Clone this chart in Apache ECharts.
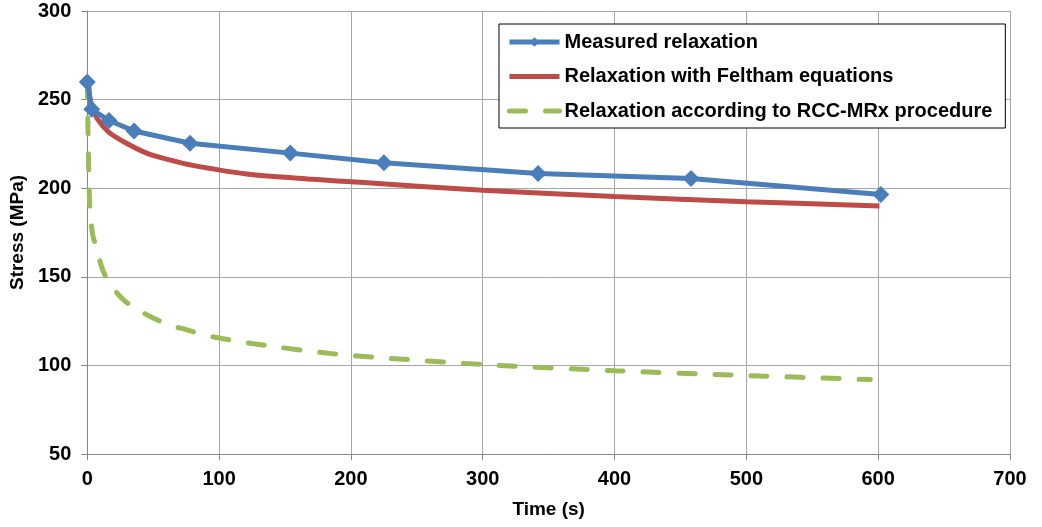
<!DOCTYPE html>
<html>
<head>
<meta charset="utf-8">
<script src="https://cdn.jsdelivr.net/npm/echarts@6/dist/echarts.min.js"></script>
<style>
html,body{margin:0;padding:0;background:#fff;}
#c{width:1042px;height:527px;}
</style>
</head>
<body>
<div id="c"></div>
<script>
var xTicks = [0, 100, 200, 300, 400, 500, 600, 700];
var yTicks = [50, 100, 150, 200, 250, 300];

var measuredT = [0, 3.4, 16.5, 35.5, 78, 154, 225, 342, 458, 602];
var measuredS = [260, 244.5, 238.2, 232.3, 225.4, 219.8, 214.3, 208.3, 205.5, 196.5];

var felthamT = [0, 1, 2, 4, 7.8, 16.5, 29.4, 46, 65, 79, 121, 172, 207, 300, 400, 500, 601];
var felthamS = [260, 258.5, 251, 245.5, 239, 231.5, 225.5, 219.5, 215.5, 213, 208, 205, 203.3, 198.8, 195.3, 192.4, 190];

var rccT = [0, 0.5, 1, 1.5, 2.2, 3.6, 5, 7, 10.7, 15.8, 26, 36, 50, 61.4, 75, 87.7, 111, 144, 187, 227, 300, 400, 500, 594];
var rccS = [260, 235, 215, 198, 187, 176, 171, 167, 156, 147.6, 138, 132.4, 126.8, 123, 120.2, 117.4, 114, 110.4, 106.5, 104.1, 100.5, 97, 94.3, 92];

var names = ['Measured relaxation', 'Relaxation with Feltham equations', 'Relaxation according to RCC-MRx procedure'];

function pairs(t, s) { return t.map(function (v, i) { return [v, s[i]]; }); }

var FONT = '"Liberation Sans", Arial, sans-serif';
var BLUE = '#4A7EBB', RED = '#BE4B48', GREEN = '#9BBB59';
var chart = echarts.init(document.getElementById('c'), null, {renderer: 'canvas'});
chart.setOption({
  animation: false,
  backgroundColor: '#ffffff',
  grid: {left: 87, right: 32, top: 11, bottom: 73, containLabel: false},
  legend: {
    orient: 'vertical',
    left: 499,
    top: 24,
    padding: [8, 13, 7, 8],
    itemGap: 14.5,
    itemWidth: 50,
    itemHeight: 12,
    backgroundColor: '#ffffff',
    borderColor: '#000000',
    borderWidth: 1,
    borderRadius: 0,
    textStyle: {fontFamily: FONT, fontSize: 20, fontWeight: 'bold', color: '#000', lineHeight: 20},
    data: [
      {name: names[0], lineStyle: {width: 5, color: BLUE}},
      {name: names[1], itemStyle: {opacity: 0}, lineStyle: {width: 5, color: RED}},
      {name: names[2], itemStyle: {opacity: 0}, lineStyle: {width: 5, color: GREEN, type: [16, 20], cap: 'round'}}
    ]
  },
  xAxis: {
    type: 'value', min: 0, max: 700, interval: 100,
    name: 'Time (s)', nameLocation: 'middle', nameGap: 46,
    nameTextStyle: {fontFamily: FONT, fontSize: 19, fontWeight: 'bold', color: '#000'},
    axisLine: {show: true, lineStyle: {color: '#868686', width: 1}},
    axisTick: {show: true, length: 6, lineStyle: {color: '#868686'}},
    axisLabel: {fontFamily: FONT, fontSize: 20, fontWeight: 'bold', color: '#000', margin: 15,
      formatter: function (v) { return xTicks.indexOf(v) >= 0 ? String(v) : ''; }},
    splitLine: {show: true, lineStyle: {color: '#A6A6A6', width: 1}}
  },
  yAxis: {
    type: 'value', min: 50, max: 300, interval: 50,
    name: 'Stress (MPa)', nameLocation: 'middle', nameGap: 60, nameRotate: 90,
    nameTextStyle: {fontFamily: FONT, fontSize: 19, fontWeight: 'bold', color: '#000'},
    axisLine: {show: true, lineStyle: {color: '#868686', width: 1}},
    axisTick: {show: true, length: 6, lineStyle: {color: '#868686'}},
    axisLabel: {fontFamily: FONT, fontSize: 20, fontWeight: 'bold', color: '#000', margin: 16,
      formatter: function (v) { return yTicks.indexOf(v) >= 0 ? String(v) : ''; }},
    splitLine: {show: true, lineStyle: {color: '#A6A6A6', width: 1}}
  },
  series: [
    {
      name: names[0], type: 'line', data: pairs(measuredT, measuredS),
      symbol: 'diamond', symbolSize: 17, showSymbol: true, z: 3,
      lineStyle: {color: BLUE, width: 5},
      itemStyle: {color: BLUE, borderWidth: 0}
    },
    {
      name: names[1], type: 'line', data: pairs(felthamT, felthamS),
      symbol: 'none', smooth: 0.3, z: 2,
      lineStyle: {color: RED, width: 5},
      itemStyle: {color: RED}
    },
    {
      name: names[2], type: 'line', data: pairs(rccT, rccS),
      symbol: 'none', smooth: 0.3, z: 1,
      lineStyle: {color: GREEN, width: 5, type: [16, 20], cap: 'round'},
      itemStyle: {color: GREEN}
    }
  ]
});
</script>
</body>
</html>
